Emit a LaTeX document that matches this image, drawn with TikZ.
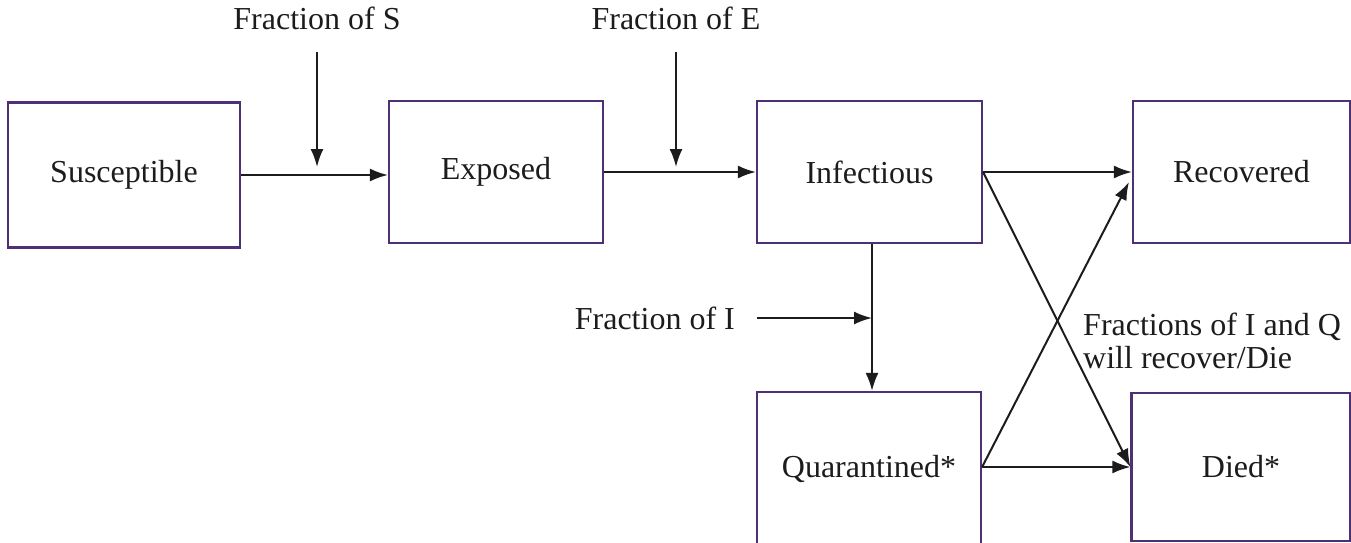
\documentclass[tikz,border=0pt]{standalone}
\usepackage{fontspec}
\setmainfont{Liberation Serif}
\usetikzlibrary{arrows.meta}
\definecolor{boxpurple}{RGB}{78,48,118}
\definecolor{ink}{RGB}{28,28,28}
\tikzset{
  box/.style={draw=boxpurple, line width=2.2pt, inner sep=0pt, text=ink,
    font=\fontsize{32}{38}\selectfont},
  lbl/.style={inner sep=0pt, text=ink, font=\fontsize{32}{33}\selectfont},
  arr/.style={draw=ink, line width=2pt, -{Latex[length=18pt,width=13pt]}}
}
\begin{document}
\begin{tikzpicture}[x=1pt,y=-1pt]
\useasboundingbox (0,0) rectangle (1351,543);
\clip (0,0) rectangle (1351,543);
% boxes
\node[box, minimum width=232pt, minimum height=145pt] (S) at (124,175) {Susceptible};
\node[box, minimum width=214pt, minimum height=142pt] (E) at (496,172) {Exposed};
\node[box, minimum width=225pt, minimum height=142pt] (I) at (869.5,172) {Infectious};
\node[box, minimum width=217pt, minimum height=142pt] (R) at (1241.5,172) {Recovered};
\node[box, minimum width=224pt, minimum height=154pt] (Q) at (869,469) {Quarantined*};
\node[box, minimum width=219pt, minimum height=148pt] (D) at (1241,467) {Died*};
% labels
\node[lbl] (fS) at (317,18) {Fraction of S};
\node[lbl] (fE) at (676,18) {Fraction of E};
\node[lbl, anchor=east] (fI) at (735,318) {Fraction of I};
\node[lbl, anchor=west, align=left] (fR) at (1083,341) {Fractions of I and Q\\will recover/Die};
% helper coordinates
\coordinate (sTop) at (317,52);
\coordinate (sEnd) at (317,167);
\coordinate (eTop) at (676,52);
\coordinate (eEnd) at (676,167);
\coordinate (iStart) at (757,318);
\coordinate (iEnd) at (872,318);
\coordinate (rIn) at (1129,182);
% connectors
\draw[arr] (S.east) -- (S.east -| E.west);
\draw[arr] (E.east) -- (E.east -| I.west);
\draw[arr] (sTop) -- (sEnd);
\draw[arr] (eTop) -- (eEnd);
\draw[arr] (I.south -| iEnd) -- (Q.north -| iEnd);
\draw[arr] (iStart) -- (iEnd);
\draw[arr] (I.east) -- (I.east -| R.west);
\draw[arr] (I.east) -- (D.west);
\draw[arr] (Q.east |- D.west) -- (D.west);
\draw[arr] (Q.east |- D.west) -- (rIn);
\end{tikzpicture}
\end{document}
